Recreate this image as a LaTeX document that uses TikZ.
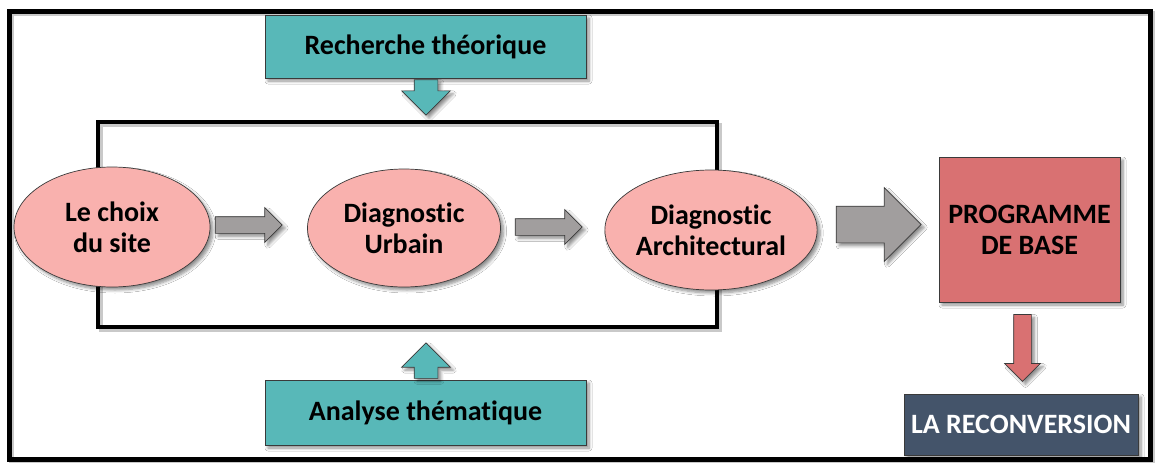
\documentclass[tikz,border=0pt]{standalone}
\usepackage{fontspec}
\setmainfont{Carlito}[Ligatures=NoCommon]
\usetikzlibrary{shapes.geometric,shapes.arrows,shadows.blur}
\definecolor{tealfill}{HTML}{58B8B8}
\definecolor{pinkfill}{HTML}{F9B1AE}
\definecolor{redfill}{HTML}{D97172}
\definecolor{darkfill}{HTML}{44546A}
\definecolor{arrowgray}{HTML}{A19E9E}
\definecolor{edgegray}{HTML}{3A3A3A}
\tikzset{
  shd/.style={blur shadow={shadow xshift=3pt, shadow yshift=-3pt, shadow blur steps=6, shadow opacity=45, shadow blur radius=3pt}},
  lbl/.style={font=\fontsize{28}{31}\selectfont\bfseries, align=center, inner sep=0pt},
  ell/.style={ellipse, lbl, fill=pinkfill, draw=edgegray, line width=0.7pt, shd},
  boxnode/.style={rectangle, lbl, draw=edgegray, line width=0.7pt, shd},
  framesh/.style={draw=black!35, opacity=0.6, line width=#1},
  barrow/.style={single arrow, draw=edgegray, line width=0.7pt, shd},
}
\begin{document}
\begin{tikzpicture}[x=1pt, y=-1pt]
\useasboundingbox (0,0) rectangle (1160,463);
\fill[white] (0,0) rectangle (1160,463);
% outer frame
\draw[framesh=5pt] (11.5,13.5) rectangle (1152.5,461.5);
\draw[black, line width=5pt] (9,11) rectangle (1150,459);
% inner frame
\draw[framesh=4pt] (100.5,124.5) rectangle (719.5,329.5);
\draw[black, line width=4pt] (98,122) rectangle (717,327);
% ellipses
\node[ell, minimum width=196, minimum height=120] (e1) at (112,227) {Le choix\\du site};
\node[ell, minimum width=193, minimum height=118] (e2) at (404,228) {Diagnostic\\Urbain};
\node[ell, minimum width=202, minimum height=120] (e3) at (711,230) {Diagnostic\\Architectural};
% boxes
\node[boxnode, fill=tealfill, minimum width=321, minimum height=63] (rt) at (425.5,46.5) {Recherche théorique};
\node[boxnode, fill=tealfill, minimum width=321, minimum height=65] (at) at (425.5,412.5) {Analyse thématique};
\node[boxnode, fill=redfill, minimum width=181, minimum height=145] (pb) at (1029.5,229.5) {PROGRAMME\\DE BASE};
\node[boxnode, fill=darkfill, text=white, minimum width=234, minimum height=61] (lr) at (1021,424.5) {LA RECONVERSION};
% block arrows
\node[barrow, fill=arrowgray, inner sep=8pt, single arrow head extend=9pt, minimum height=67] (a1) at (244.5,225) {};
\node[barrow, fill=arrowgray, inner sep=8pt, single arrow head extend=9pt, minimum height=67] (a2) at (544.5,227) {};
\node[barrow, fill=arrowgray, inner sep=18pt, single arrow head extend=18.5pt, minimum height=85] (a3) at (869.5,224.5) {};
\node[barrow, fill=tealfill, inner sep=11.5pt, single arrow head extend=12.5pt, minimum height=35, shape border rotate=270] (a4) at (426,91.5) {};
\node[barrow, fill=tealfill, inner sep=11.5pt, single arrow head extend=12.5pt, minimum height=35, shape border rotate=90] (a5) at (426,366.5) {};
\node[barrow, fill=redfill, inner sep=8.5pt, single arrow head extend=9pt, minimum height=67, shape border rotate=270] (a6) at (1022.5,343.5) {};
\end{tikzpicture}
\end{document}
